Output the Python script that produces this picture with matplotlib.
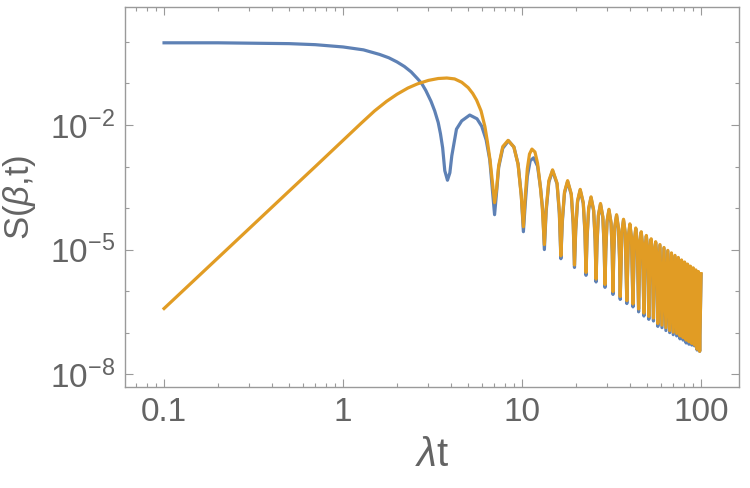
import numpy as np
import matplotlib
matplotlib.use('Agg')
import matplotlib.pyplot as plt
from matplotlib.ticker import FixedLocator, LogLocator, NullFormatter

# values; S given as log10 exponents
blue_head_t = [0.1, 0.2, 0.3, 0.5, 0.7, 1.0, 1.3, 1.6, 1.8, 2.0, 2.2, 2.4, 2.6,
               2.75, 2.9, 3.1, 3.25, 3.4, 3.5, 3.6, 3.7, 3.83, 3.95, 4.05, 4.3,
               4.6, 5.1, 5.6, 5.95, 6.3, 6.6, 6.85, 7.02, 7.2, 7.4, 7.8, 8.4,
               9.0, 9.5, 9.9, 10.17, 10.4, 10.7, 11.1, 11.6, 12.2, 12.7, 13.05]
blue_head_exp = [-0.02, -0.02, -0.03, -0.04, -0.065, -0.12, -0.19, -0.30, -0.38,
                 -0.48, -0.59, -0.72, -0.88, -1.0, -1.17, -1.43, -1.66, -1.94,
                 -2.21, -2.55, -3.1, -3.33, -3.15, -2.74, -2.10, -1.90, -1.76,
                 -1.85, -2.03, -2.36, -2.84, -3.64, -4.16, -3.63, -3.02, -2.56,
                 -2.38, -2.53, -2.94, -3.69, -4.57, -3.94, -3.24, -2.86, -2.79,
                 -2.99, -3.54, -4.08]

orange_head_t = [0.1, 0.2, 0.3, 0.5, 0.7, 1.0, 1.26, 1.5, 1.75, 2.0, 2.3, 2.6,
                 3.0, 3.4, 3.8, 4.2, 4.6, 5.0, 5.3, 5.57, 5.9, 6.2, 6.4, 6.62,
                 6.8, 7.02, 7.2, 7.4, 7.8, 8.35, 9.0, 9.5, 9.9, 10.17, 10.4,
                 10.7, 11.0, 11.35, 11.8, 12.2, 12.6, 12.95]
orange_head_exp = [-6.42, -5.20, -4.49, -3.59, -3.00, -2.37, -1.96, -1.66,
                   -1.43, -1.26, -1.11, -1.01, -0.925, -0.88, -0.868, -0.89,
                   -0.97, -1.10, -1.24, -1.40, -1.66, -2.04, -2.40, -2.84,
                   -3.30, -3.87, -3.55, -2.98, -2.52, -2.37, -2.53, -2.95,
                   -3.72, -4.45, -3.75, -3.05, -2.70, -2.58, -2.65, -2.92,
                   -3.42, -3.95]

# dense oscillating part, same sample positions for both curves
tail_t = [13.32, 13.63, 14.11, 14.80, 15.68, 16.15,
          16.47, 16.78, 17.26, 17.96, 18.83, 19.30,
          19.62, 19.93, 20.41, 21.12, 21.97, 22.45,
          22.76, 23.07, 23.55, 24.27, 25.11, 25.59,
          25.90, 26.21, 26.69, 27.42, 28.26, 28.73,
          29.05, 29.36, 29.84, 30.57, 31.41, 31.88,
          32.19, 32.50, 32.98, 33.72, 34.55, 35.02,
          35.33, 36.12, 36.86, 37.69,
          38.47, 39.26, 40.01, 40.83,
          41.62, 42.40, 43.16, 43.97,
          44.76, 45.55, 46.30, 47.12,
          47.90, 48.69, 49.45, 50.26,
          51.04, 51.83, 52.59, 53.40,
          54.19, 54.97, 55.73, 56.55,
          57.33, 58.88, 60.47, 62.02, 63.61, 65.16, 66.75, 68.30,
          69.89, 71.45, 73.04, 74.59, 76.18, 77.73, 79.32, 80.87,
          82.46, 84.02, 85.60, 87.16, 88.75, 90.30, 91.89, 93.44,
          95.03, 96.59, 98.17, 100.0]
blue_tail_exp = [-5.00, -4.08, -3.38, -3.10, -3.42, -4.14,
                 -5.22, -4.34, -3.64, -3.36, -3.68, -4.40,
                 -5.43, -4.55, -3.85, -3.57, -3.89, -4.61,
                 -5.62, -4.73, -4.03, -3.75, -4.07, -4.79,
                 -5.78, -4.89, -4.19, -3.91, -4.23, -4.95,
                 -5.91, -5.03, -4.33, -4.05, -4.37, -5.09,
                 -6.08, -5.16, -4.46, -4.18, -4.50, -5.22,
                 -6.20, -4.59, -4.29, -4.61,
                 -6.30, -4.70, -4.40, -4.72,
                 -6.38, -4.80, -4.50, -4.82,
                 -6.50, -4.89, -4.59, -4.91,
                 -6.60, -4.98, -4.68, -5.00,
                 -6.68, -5.06, -4.76, -5.08,
                 -6.72, -5.13, -4.83, -5.15,
                 -6.85, -4.90, -6.88, -4.97, -6.95, -5.04, -7.00, -5.10,
                 -7.05, -5.16, -7.08, -5.21, -7.15, -5.27, -7.18, -5.32,
                 -7.25, -5.37, -7.28, -5.42, -7.30, -5.46, -7.32, -5.51,
                 -7.42, -5.55, -7.45, -5.60]
orange_tail_exp = [-4.88, -4.02, -3.34, -3.08, -3.40, -4.08,
                   -5.15, -4.28, -3.61, -3.34, -3.66, -4.34,
                   -5.37, -4.50, -3.82, -3.55, -3.87, -4.56,
                   -5.55, -4.68, -4.00, -3.73, -4.05, -4.74,
                   -5.71, -4.84, -4.16, -3.89, -4.21, -4.90,
                   -5.84, -4.98, -4.30, -4.03, -4.35, -5.04,
                   -6.01, -5.11, -4.43, -4.16, -4.48, -5.17,
                   -6.13, -4.56, -4.27, -4.59,
                   -6.23, -4.67, -4.38, -4.70,
                   -6.31, -4.77, -4.48, -4.80,
                   -6.43, -4.86, -4.57, -4.89,
                   -6.53, -4.95, -4.66, -4.98,
                   -6.61, -5.03, -4.74, -5.06,
                   -6.65, -5.10, -4.81, -5.13,
                   -6.78, -4.88, -6.82, -4.95, -6.88, -5.02, -6.95, -5.08,
                   -6.99, -5.14, -7.02, -5.19, -7.08, -5.25, -7.12, -5.30,
                   -7.18, -5.35, -7.22, -5.40, -7.26, -5.44, -7.30, -5.49,
                   -7.40, -5.53, -7.45, -5.58]

xticks = [0.1, 1, 10, 100]
xtick_labels = ['0.1', '1', '10', '100']
yticks = [1e-2, 1e-5, 1e-8]
ytick_labels = [r'$10^{-2}$', r'$10^{-5}$', r'$10^{-8}$']
yminor = [1e0, 1e-1, 1e-3, 1e-4, 1e-6, 1e-7]

plt.rcParams['font.family'] = ['Liberation Sans', 'DejaVu Sans']
plt.rcParams['mathtext.fontset'] = 'custom'
plt.rcParams['mathtext.rm'] = 'Liberation Sans'
plt.rcParams['mathtext.it'] = 'Liberation Sans:italic'

blue_t = blue_head_t + tail_t
blue_s = 10.0 ** np.array(blue_head_exp + blue_tail_exp)
orange_t = orange_head_t + tail_t
orange_s = 10.0 ** np.array(orange_head_exp + orange_tail_exp)

fig = plt.figure(figsize=(7.5, 4.88), dpi=100)
ax = fig.add_axes([0.1667, 0.207, 0.8187, 0.7787])

ax.plot(blue_t, blue_s, color='#5E81B5', lw=2.3, solid_joinstyle='round')
ax.plot(orange_t, orange_s, color='#E19C24', lw=2.3, solid_joinstyle='round')

ax.set_xscale('log')
ax.set_yscale('log')
ax.set_xlim(10 ** -1.218, 10 ** 2.212)
ax.set_ylim(10 ** -8.31, 10 ** 0.843)

ax.set_xticks(xticks)
ax.set_xticklabels(xtick_labels)
ax.xaxis.set_minor_locator(LogLocator(base=10, subs=np.arange(2, 10)))
ax.xaxis.set_minor_formatter(NullFormatter())
ax.set_yticks(yticks)
ax.set_yticklabels(ytick_labels)
ax.yaxis.set_minor_locator(FixedLocator(yminor))
ax.yaxis.set_minor_formatter(NullFormatter())

gray = '#9a9a9a'
for sp in ax.spines.values():
    sp.set_color(gray)
    sp.set_linewidth(1.0)
ax.tick_params(which='both', direction='in', top=True, right=True,
               color=gray, width=0.8, labelcolor='#646464', labelsize=24)
ax.tick_params(which='major', length=6, pad=7)
ax.tick_params(which='minor', length=3)

ax.set_xlabel(r'$\lambda$t', fontsize=29, color='#646464', labelpad=6)
ax.set_ylabel(r'S($\beta$,t)', fontsize=25, color='#646464', labelpad=9)

fig.savefig('out.png', dpi=100)
